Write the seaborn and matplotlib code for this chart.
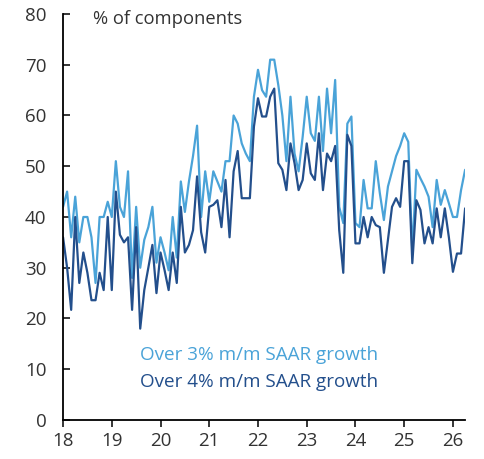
import numpy as np
import pandas as pd
import seaborn as sns
import matplotlib.pyplot as plt

# Monthly share of components, Jan 2018 - Apr 2026
over3 = [42, 45, 36, 44, 35, 40, 40, 36, 27, 40, 40, 43,
         40, 51, 42, 40, 49, 28, 42, 30, 35.5, 38, 42, 31,
         36, 33, 29.5, 40, 32, 47, 41, 47, 52, 58, 40, 49,
         43, 49, 47, 45, 51, 51, 60, 58.4, 54.5, 52.5, 51, 63.7,
         69, 65, 63.7, 71, 71, 66, 60, 51, 63.7, 52.5, 49, 55.8,
         63.7, 56.5, 55, 63.7, 53, 65.3, 56.5, 67, 42, 38.8, 58.4, 59.8,
         38.8, 38, 47.3, 41.7, 41.7, 51, 44.7, 39.4, 46, 49, 52, 54,
         56.5, 54.8, 33, 49.3, 47.6, 46, 44, 38, 47.3, 42.4, 45.3, 42.7,
         40, 40, 45.3, 49.3]
over4 = [36, 30, 21.7, 40, 27, 33, 29, 23.6, 23.6, 29, 25.6, 40,
         25.6, 45, 36.5, 35, 36, 21.7, 38, 18, 25.6, 30, 34.5, 25,
         33, 29.5, 25.6, 33, 27, 42, 33, 34.5, 37.4, 48, 37, 33,
         42, 42.4, 43.3, 38, 47.3, 36, 49, 53, 43.7, 43.7, 43.7, 57.8,
         63.4, 59.8, 59.8, 63.7, 65.3, 50.6, 49.3, 45.3, 54.5, 50.6, 45.3, 47.3,
         54.5, 48.6, 47.3, 56.5, 45.3, 52.5, 51, 54, 37.4, 29, 56.2, 54,
         34.8, 34.8, 40, 36, 40, 38.4, 38, 29, 35.5, 42, 43.7, 42,
         51, 51, 30.9, 43.3, 41.4, 34.8, 38, 34.8, 41.7, 36, 41.7, 36,
         29.2, 32.8, 32.8, 41.7]
years = [18, 19, 20, 21, 22, 23, 24, 25, 26]

t = 2018 + np.arange(len(over3)) / 12
df = pd.DataFrame({"date": np.concatenate([t, t]),
                   "value": over3 + over4,
                   "series": ["3"] * len(over3) + ["4"] * len(over4)})

light = "#4aa3d8"
dark = "#234f8c"

sns.set_style("white")
plt.rcParams["font.family"] = ["Open Sans", "DejaVu Sans"]

fig = plt.figure(figsize=(4.85, 4.59), dpi=100)
ax = fig.add_axes([0.130, 0.085, 0.829, 0.8845])

sns.lineplot(data=df, x="date", y="value", hue="series",
             palette={"3": light, "4": dark}, linewidth=1.6,
             legend=False, ax=ax)

ax.set_xlim(2018, 2026.25)
ax.set_ylim(0, 80)
ax.set_xticks([2000 + y for y in years])
ax.set_xticklabels([str(y) for y in years])
ax.set_yticks(range(0, 81, 10))
ax.set_xlabel("")
ax.set_ylabel("")

for s in ["top", "right"]:
    ax.spines[s].set_visible(False)
for s in ["left", "bottom"]:
    ax.spines[s].set_color("black")
    ax.spines[s].set_linewidth(1.3)

ax.tick_params(axis="y", direction="in", length=5, width=1.3, pad=12,
               labelsize=13.5, labelcolor="#333333", left=True)
ax.tick_params(axis="x", direction="out", length=5, width=1.3, pad=4,
               labelsize=13.5, labelcolor="#333333", bottom=True)

ax.text(2018.62, 79, "% of components", fontsize=13.2, color="#333333",
        va="center", ha="left")
ax.text(2019.58, 12.8, "Over 3% m/m SAAR growth", fontsize=13.6,
        color=light, va="center", ha="left")
ax.text(2019.58, 7.5, "Over 4% m/m SAAR growth", fontsize=13.6,
        color=dark, va="center", ha="left")

fig.savefig("out.png", dpi=100)
